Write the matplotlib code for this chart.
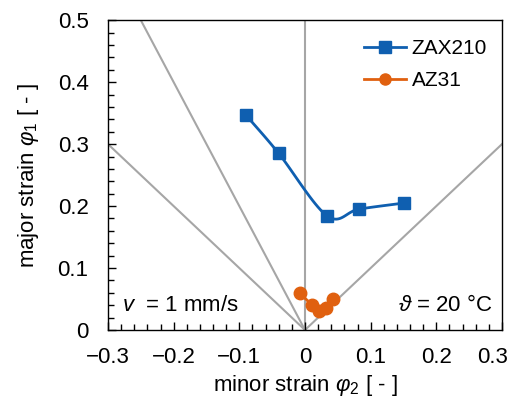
import matplotlib
matplotlib.use("Agg")
import matplotlib.pyplot as plt
import matplotlib.transforms as mtransforms
import numpy as np
from matplotlib.ticker import MultipleLocator

plt.rcParams['font.family'] = ['Liberation Sans', 'DejaVu Sans']
plt.rcParams['mathtext.fontset'] = 'custom'
plt.rcParams['mathtext.rm'] = 'Liberation Sans'
plt.rcParams['mathtext.it'] = 'Liberation Sans:italic'

# data
zax_minor = [-0.090, -0.040, 0.034, 0.082, 0.151]
zax_major = [0.347, 0.285, 0.184, 0.195, 0.205]
az_minor = [-0.008, 0.011, 0.022, 0.032, 0.042]
az_major = [0.060, 0.040, 0.031, 0.035, 0.050]

# strain path guide lines through the origin (end points)
guide_x = [-0.3, -0.25, 0.0, 0.3]
guide_y = [0.3, 0.5, 0.5, 0.3]


def smooth(x, y, n=20):
    # catmull-rom style curve like the Excel "smoothed line"
    x = np.asarray(x); y = np.asarray(y)
    px = np.concatenate([[2 * x[0] - x[1]], x, [2 * x[-1] - x[-2]]])
    py = np.concatenate([[2 * y[0] - y[1]], y, [2 * y[-1] - y[-2]]])
    xs, ys = [], []
    t = np.linspace(0, 1, n)
    for i in range(1, len(px) - 2):
        for p, out in ((px, xs), (py, ys)):
            p0, p1, p2, p3 = p[i - 1], p[i], p[i + 1], p[i + 2]
            out.extend(0.5 * (2 * p1 + (-p0 + p2) * t
                              + (2 * p0 - 5 * p1 + 4 * p2 - p3) * t ** 2
                              + (-p0 + 3 * p1 - 3 * p2 + p3) * t ** 3))
    return xs, ys


fig = plt.figure(figsize=(5.13, 4.12), dpi=100)
ax = fig.add_axes([0.2105, 0.199, 0.768, 0.752])

for gx, gy in zip(guide_x, guide_y):
    ax.plot([0, gx], [0, gy], color='#a6a6a6', lw=1.5, zorder=1)

blue = '#0f5fb0'
orange = '#e0600f'
sx, sy = smooth(zax_minor, zax_major)
ax.plot(sx, sy, color=blue, lw=2, zorder=2)
ax.plot(zax_minor, zax_major, ls='none', marker='s', ms=8.5, color=blue, zorder=3)
ax.plot([], [], color=blue, lw=2, marker='s', ms=8, label='ZAX210')

sx, sy = smooth(az_minor, az_major)
ax.plot(sx, sy, color=orange, lw=2, zorder=2)
ax.plot(az_minor, az_major, ls='none', marker='o', ms=9, color=orange, zorder=3)
ax.plot([], [], color=orange, lw=2, marker='o', ms=8, label='AZ31')

ax.set_xlim(-0.3, 0.3)
ax.set_ylim(0, 0.5)
ax.set_xticks([-0.3, -0.2, -0.1, 0, 0.1, 0.2, 0.3])
ax.xaxis.set_minor_locator(MultipleLocator(0.02))
ax.yaxis.set_major_locator(MultipleLocator(0.1))
ax.yaxis.set_minor_locator(MultipleLocator(0.02))
ax.xaxis.set_major_formatter(plt.FuncFormatter(lambda v, p: '0' if abs(v) < 1e-9 else ('%.1f' % v).replace('-', '\u2212')))
ax.yaxis.set_major_formatter(plt.FuncFormatter(lambda v, p: '0' if abs(v) < 1e-9 else '%.1f' % v))
ax.tick_params(which='both', direction='in', labelsize=16, width=1)
ax.tick_params(axis='x', pad=12)
ax.tick_params(axis='y', pad=14)
ax.tick_params(which='major', length=6)
ax.tick_params(which='minor', length=4)
for s in ax.spines.values():
    s.set_linewidth(1)

# last x label is pulled inside the figure, as in the original
last = ax.xaxis.get_major_ticks()[-1].label1
last.set_transform(last.get_transform() + mtransforms.ScaledTranslation(-0.09, 0, fig.dpi_scale_trans))

ax.set_xlabel(r'minor strain $\mathit{\varphi}_{2}$ [ - ]', fontsize=16, labelpad=4)
ax.set_ylabel(r'major strain $\mathit{\varphi}_{\mathit{1}}$ [ - ]', fontsize=16, labelpad=12)

ax.text(0.035, 0.08, '$\\mathit{v}$  = 1 mm/s', transform=ax.transAxes, fontsize=16, va='center')
ax.text(0.975, 0.08, '$\\mathit{\\vartheta}$ = 20 \u00b0C', transform=ax.transAxes, fontsize=16,
        va='center', ha='right')

ax.legend(loc='upper right', frameon=False, fontsize=15, handlelength=2.0,
          handletextpad=0.3, bbox_to_anchor=(1.01, 1.0), labelspacing=0.65)

fig.savefig('out.png', dpi=100)
